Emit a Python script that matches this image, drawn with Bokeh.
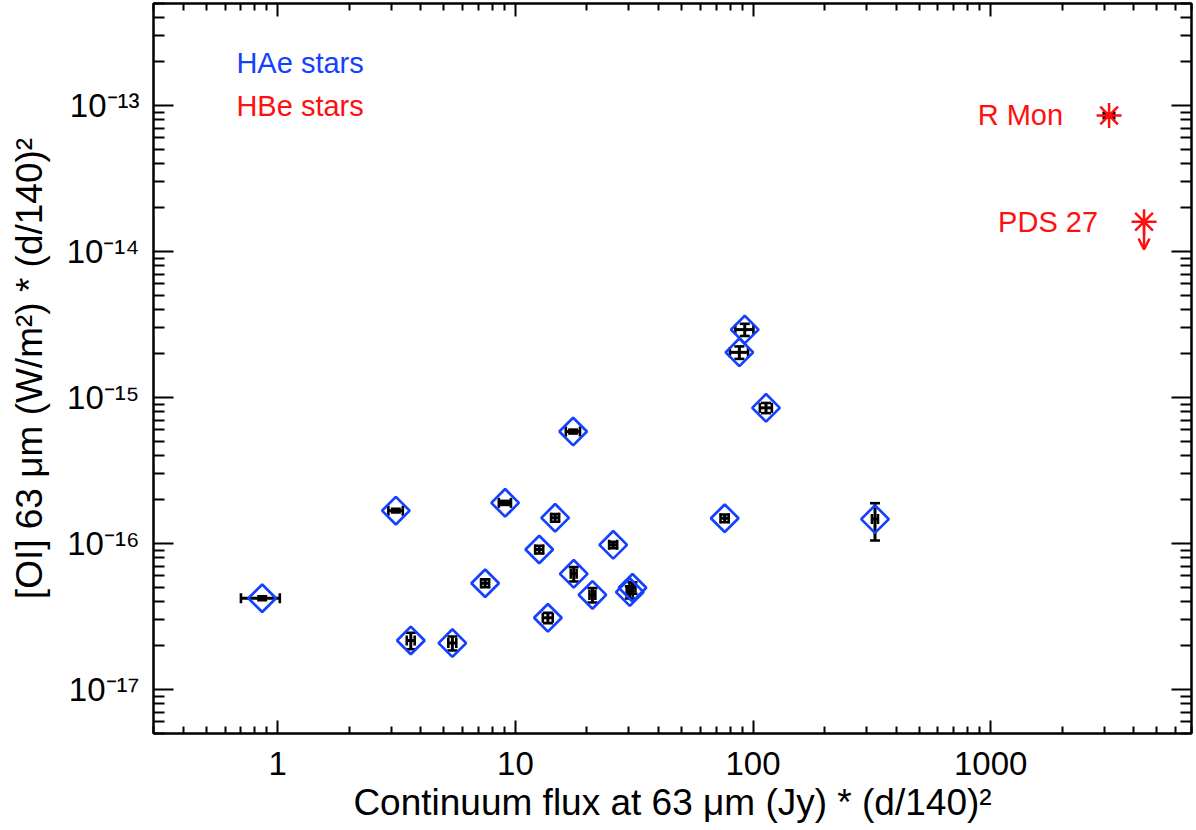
import numpy as np
from bokeh.plotting import figure
from bokeh.models import (Whisker, ColumnDataSource, FixedTicker, LogAxis, Label,
                          Arrow, OpenHead, CustomJSTickFormatter, Range1d, TeeHead)
from bokeh.core.properties import value
from bokeh.embed import file_html
from bokeh.resources import INLINE

# ---------------- data ----------------
hae_flux63 = [0.86, 3.14, 3.63, 5.43, 7.46, 9.05, 12.6, 13.7, 14.7, 17.5,
              17.6, 21.1, 25.8, 30.3, 31.1, 76.0, 87.6, 92.3, 113.4, 326.0]
hae_oi = [4.22e-17, 1.68e-16, 2.17e-17, 2.08e-17, 5.35e-17, 1.90e-16, 9.1e-17,
          3.1e-17, 1.50e-16, 5.85e-16, 6.2e-17, 4.45e-17, 9.8e-17, 4.65e-17,
          4.98e-17, 1.49e-16, 2.04e-15, 2.92e-15, 8.5e-16, 1.47e-16]
hae_flux_err = [0.16, 0.22, 0.14, 0.21, 0.29, 0.53, 0.49, 0.66, 0.57, 1.2,
                0.5, 0.6, 1.0, 0.9, 0.9, 3.0, 7.7, 8.1, 6.6, 9.5]
hae_oi_err = [0.13e-17, 0.5e-17, 0.28e-17, 0.23e-17, 0.33e-17, 0.6e-17, 0.55e-17,
              0.25e-17, 0.9e-17, 1.8e-17, 0.7e-17, 0.5e-17, 0.5e-17, 0.45e-17,
              0.45e-17, 0.9e-17, 2.0e-16, 2.8e-16, 0.68e-16, 4.2e-17]

hbe_names = ["R Mon", "PDS 27"]
hbe_flux63 = [3150.0, 4420.0]
hbe_oi = [8.55e-14, 1.60e-14]
hbe_flux_err = [160.0, 0.0]
hbe_oi_err = [0.25e-14, 0.0]
hbe_upper_limit = [False, True]

x_ticks = [1, 10, 100, 1000]
y_ticks = [1e-17, 1e-16, 1e-15, 1e-14, 1e-13]
x_title = "Continuum flux at 63 \u03bcm (Jy) * (d/140)\u00b2"
y_title = "[OI] 63 \u03bcm (W/m\u00b2) * (d/140)\u00b2"
group_labels = ["HAe stars", "HBe stars"]

# ---------------- styling ----------------
FONT = "Liberation Sans"
BLUE = "#1441ff"
RED = "#ff1010"

x_minor = [m * 10.0 ** e for e in range(-1, 4) for m in range(2, 10)]
y_minor = [m * 10.0 ** e for e in range(-18, -12) for m in range(2, 10)]

p = figure(width=1196, height=830, x_axis_type="log", y_axis_type="log",
           x_range=Range1d(0.3, 7000), y_range=Range1d(5e-18, 5e-13),
           output_backend="svg", toolbar_location=None,
           min_border_left=153, min_border_right=5, min_border_top=3,
           min_border_bottom=97)
p.grid.visible = False
p.outline_line_color = "black"
p.outline_line_width = 2
p.background_fill_color = "white"
p.border_fill_color = "white"

empty_fmt = CustomJSTickFormatter(code="return '';")
sup_fmt = CustomJSTickFormatter(code="""
const sup = {"-":"\u207b","0":"\u2070","1":"\u00b9","2":"\u00b2","3":"\u00b3",
             "4":"\u2074","5":"\u2075","6":"\u2076","7":"\u2077","8":"\u2078","9":"\u2079"};
const e = Math.round(Math.log10(tick));
return "10" + String(e).split("").map(c => sup[c]).join("");
""")
plain_fmt = CustomJSTickFormatter(code="return String(Math.round(tick));")


def style_axis(ax, ticks, minor, tin, min_in):
    ax.ticker = FixedTicker(ticks=ticks, minor_ticks=minor)
    ax.major_tick_in = tin
    ax.major_tick_out = 0
    ax.minor_tick_in = min_in
    ax.minor_tick_out = 0
    ax.major_tick_line_width = 2
    ax.minor_tick_line_width = 2
    ax.axis_line_width = 2
    ax.axis_line_color = "black"
    ax.major_tick_line_color = "black"
    ax.minor_tick_line_color = "black"
    ax.major_label_text_font = FONT
    ax.major_label_text_color = "black"
    ax.axis_label_text_font = FONT
    ax.axis_label_text_font_style = "normal"
    ax.axis_label_text_color = "black"


xb = p.xaxis[0]
style_axis(xb, x_ticks, x_minor, 13, 7)
xb.formatter = plain_fmt
xb.major_label_text_font_size = "33px"
xb.major_label_standoff = 18
xb.axis_label = x_title
xb.axis_label_text_font_size = "37px"
xb.axis_label_standoff = 4

yl = p.yaxis[0]
style_axis(yl, y_ticks, y_minor, 20, 11)
yl.formatter = sup_fmt
yl.major_label_text_font_size = "33px"
yl.major_label_standoff = 14
yl.axis_label = y_title
yl.axis_label_text_font_size = "37px"
yl.axis_label_standoff = 14

xt = LogAxis()
style_axis(xt, x_ticks, x_minor, 13, 7)
xt.formatter = empty_fmt
xt.major_label_text_font_size = "1px"
xt.major_label_standoff = 0
p.add_layout(xt, "above")

yr = LogAxis()
style_axis(yr, y_ticks, y_minor, 20, 11)
yr.formatter = empty_fmt
yr.major_label_text_font_size = "1px"
yr.major_label_standoff = 0
p.add_layout(yr, "right")

# ---------------- HAe stars ----------------
hae = ColumnDataSource(dict(
    x=hae_flux63, y=hae_oi,
    xl=[a - b for a, b in zip(hae_flux63, hae_flux_err)],
    xh=[a + b for a, b in zip(hae_flux63, hae_flux_err)],
    yl=[a - b for a, b in zip(hae_oi, hae_oi_err)],
    yh=[a + b for a, b in zip(hae_oi, hae_oi_err)],
))

p.scatter("x", "y", source=hae, marker="square", angle=np.pi / 4, size=19.5,
          fill_alpha=0, line_color=BLUE, line_width=2.7)


def cap(size=10):
    return TeeHead(size=size, line_color="black", line_width=2.6)


p.add_layout(Whisker(source=hae, base="y", lower="xl", upper="xh", dimension="width",
                     line_color="black", line_width=3,
                     lower_head=cap(), upper_head=cap()))
p.add_layout(Whisker(source=hae, base="x", lower="yl", upper="yh", dimension="height",
                     line_color="black", line_width=3,
                     lower_head=cap(), upper_head=cap()))

# ---------------- HBe stars ----------------
hbe = ColumnDataSource(dict(
    x=hbe_flux63, y=hbe_oi, name=hbe_names,
))
p.scatter("x", "y", source=hbe, marker="asterisk", size=25, line_color=RED,
          line_width=2.5)

det = ColumnDataSource(dict(
    x=[x for x, u in zip(hbe_flux63, hbe_upper_limit) if not u],
    y=[y for y, u in zip(hbe_oi, hbe_upper_limit) if not u],
    xl=[a - b for a, b, u in zip(hbe_flux63, hbe_flux_err, hbe_upper_limit) if not u],
    xh=[a + b for a, b, u in zip(hbe_flux63, hbe_flux_err, hbe_upper_limit) if not u],
    yl=[a - b for a, b, u in zip(hbe_oi, hbe_oi_err, hbe_upper_limit) if not u],
    yh=[a + b for a, b, u in zip(hbe_oi, hbe_oi_err, hbe_upper_limit) if not u],
))
p.add_layout(Whisker(source=det, base="y", lower="xl", upper="xh", dimension="width",
                     line_color="black", line_width=5,
                     lower_head=cap(8), upper_head=cap(8)))
p.add_layout(Whisker(source=det, base="x", lower="yl", upper="yh", dimension="height",
                     line_color="black", line_width=3,
                     lower_head=cap(8), upper_head=cap(8)))

ul = ColumnDataSource(dict(
    x0=[x for x, u in zip(hbe_flux63, hbe_upper_limit) if u],
    y0=[y for y, u in zip(hbe_oi, hbe_upper_limit) if u],
    y1=[y / 1.55 for y, u in zip(hbe_oi, hbe_upper_limit) if u],
))
p.add_layout(Arrow(source=ul, x_start="x0", y_start="y0", x_end="x0", y_end="y1",
                   line_color=RED, line_width=2.5,
                   end=OpenHead(size=11, line_color=RED, line_width=2.5)))

p.text("x", "y", text="name", source=hbe, x_offset=-46, y_offset=0,
       text_align="right", text_baseline="middle", text_color=RED,
       text_font=value(FONT), text_font_size="29px")

# ---------------- group labels ----------------
p.add_layout(Label(x=0.67, y=1.95e-13, text=group_labels[0], text_color=BLUE,
                   text_font=FONT, text_font_size="29px", text_baseline="alphabetic"))
p.add_layout(Label(x=0.67, y=1.0e-13, text=group_labels[1], text_color=RED,
                   text_font=FONT, text_font_size="29px", text_baseline="alphabetic"))

open("out.html", "w").write(file_html(p, INLINE))
